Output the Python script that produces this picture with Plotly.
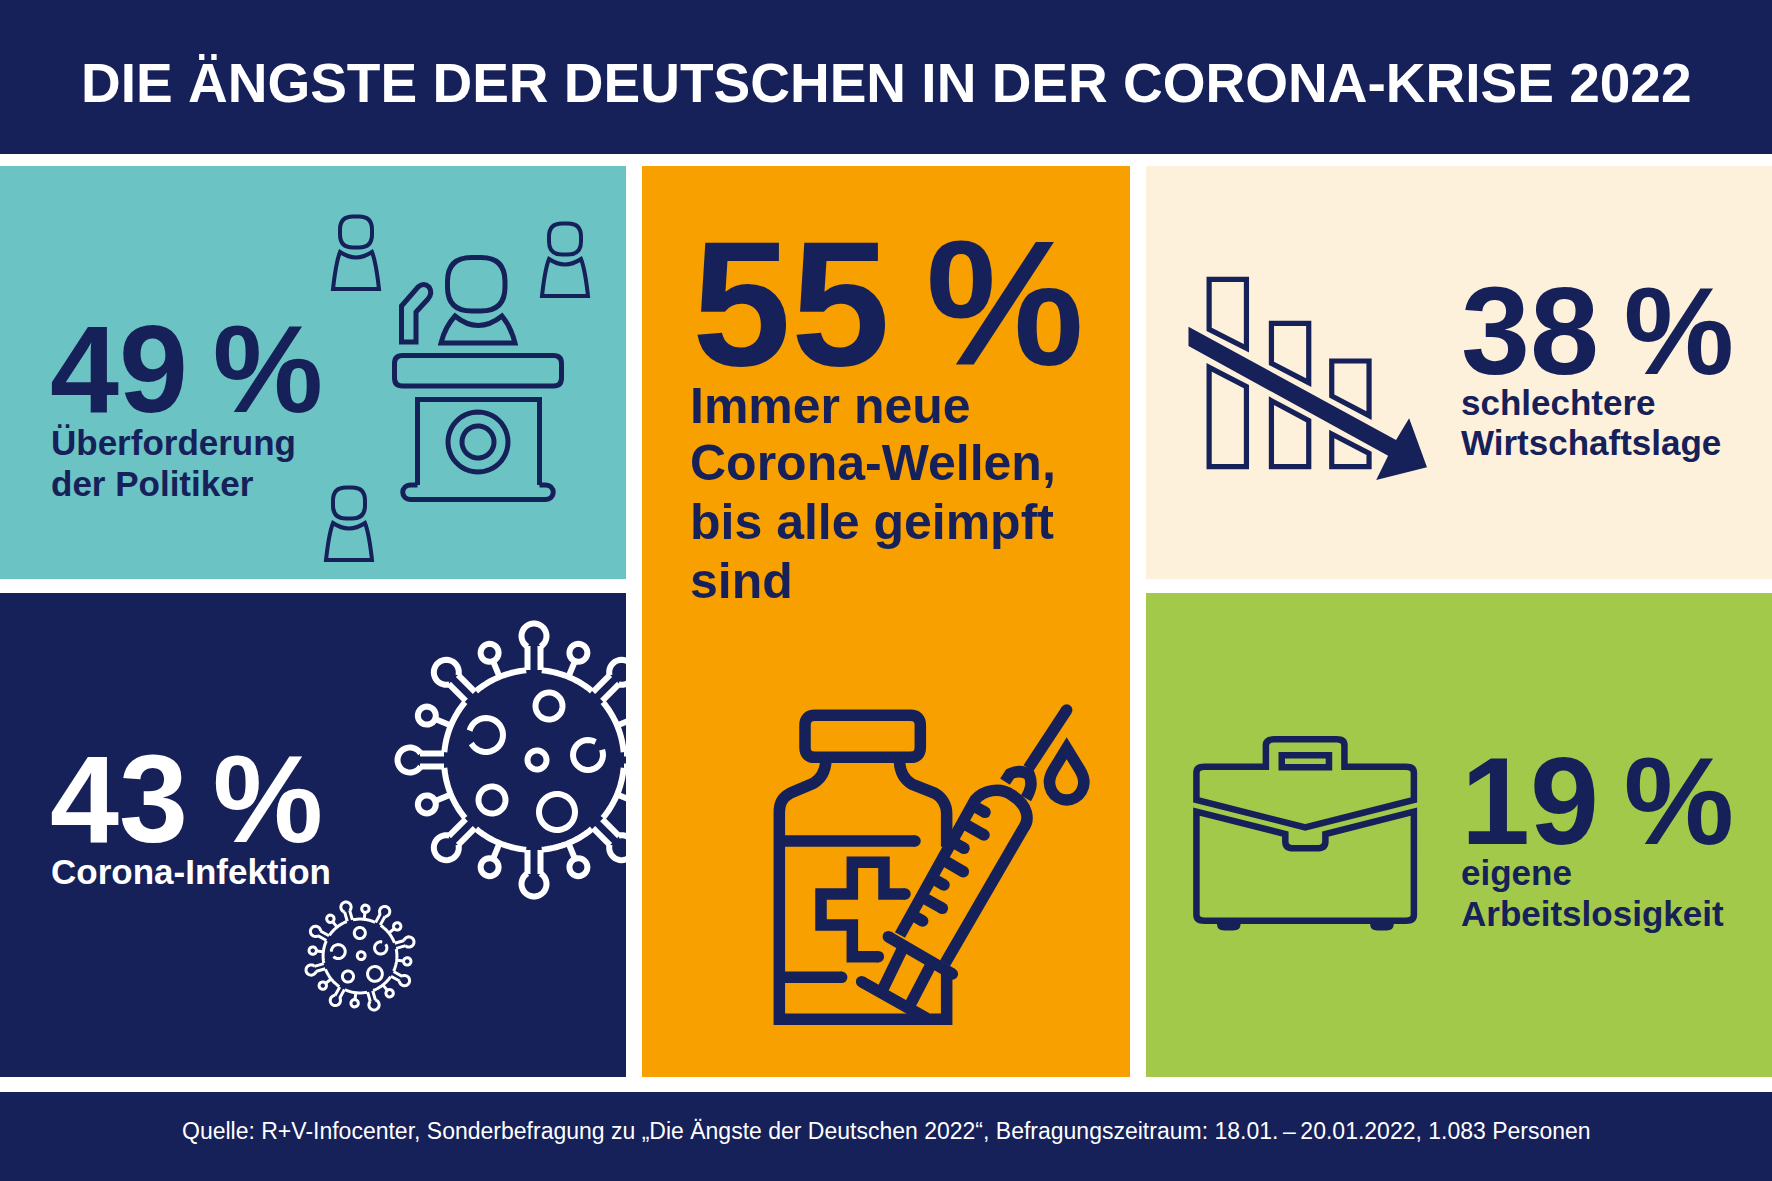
import numpy as np
import plotly.graph_objects as go

# values and texts of the infographic
title_text = "DIE ÄNGSTE DER DEUTSCHEN IN DER CORONA-KRISE 2022"
source_text = "Quelle: R+V-Infocenter, Sonderbefragung zu „Die Ängste der Deutschen 2022“, Befragungszeitraum: 18.01.\u2009–\u200920.01.2022, 1.083 Personen"
percent_values = [49, 43, 55, 38, 19]
fear_labels = [
    ["Überforderung", "der Politiker"],
    ["Corona-Infektion"],
    ["Immer neue", "Corona-Wellen,", "bis alle geimpft", "sind"],
    ["schlechtere", "Wirtschaftslage"],
    ["eigene", "Arbeitslosigkeit"],
]

# layout of the text blocks, same order as above
value_x = [50, 50, 692, 1461, 1461]
value_y = [369, 799, 303, 331, 801]
value_size = [124, 124, 178, 124, 124]
value_color = ["navy", "white", "navy", "navy", "navy"]
label_x = [51, 51, 690, 1461, 1461]
label_y = [[442, 483], [871], [406, 463, 522, 581], [402, 442], [872, 913]]
label_size = [35, 35, 50, 35, 35]

NAVY = "#162059"
WHITE = "#ffffff"
TEAL = "#6cc3c4"
ORANGE = "#f7a000"
CREAM = "#fef1dc"
GREEN = "#a3c94a"
colors = {"navy": NAVY, "white": WHITE}

fig = go.Figure()


def rect(x0, y0, x1, y1, color):
    fig.add_shape(type="rect", x0=x0, y0=y0, x1=x1, y1=y1, fillcolor=color, line_width=0)


def draw(path, color=NAVY, width=5.0, fill=None):
    fig.add_shape(type="path", path=path, line=dict(color=color, width=width),
                  fillcolor=fill if fill else "rgba(0,0,0,0)")


def dot(x, y, r, color=NAVY):
    fig.add_shape(type="circle", x0=x - r, y0=y - r, x1=x + r, y1=y + r, fillcolor=color, line_width=0)


def arc(cx, cy, r, a0=0, a1=360, closed=True, n=48):
    a = np.radians(np.linspace(a0, a1, n))
    xs = cx + r * np.cos(a)
    ys = cy - r * np.sin(a)
    p = "M " + " L ".join(f"{x:.2f} {y:.2f}" for x, y in zip(xs, ys))
    return p + (" Z" if closed else "")


def rrect(x0, y0, x1, y1, r):
    return (f"M {x0+r} {y0} L {x1-r} {y0} Q {x1} {y0} {x1} {y0+r} L {x1} {y1-r} Q {x1} {y1} {x1-r} {y1} "
            f"L {x0+r} {y1} Q {x0} {y1} {x0} {y1-r} L {x0} {y0+r} Q {x0} {y0} {x0+r} {y0} Z")


def moved(path, ox, oy, sx, sy):
    # path written in crop pixels, turned into chart pixels
    out = []
    is_x = True
    for tok in path.split():
        if tok.isalpha():
            out.append(tok)
            is_x = True
        else:
            v = float(tok)
            out.append(f"{ox + v / sx:.2f}" if is_x else f"{oy + v / sy:.2f}")
            is_x = not is_x
    return " ".join(out)


def virus(cx, cy, k, turn, width):
    def pt(ang, dist):
        a = np.radians(ang + turn)
        return cx + k * dist * np.cos(a), cy - k * dist * np.sin(a)

    # body, broken where the long spikes come in
    for i in range(8):
        draw(arc(cx, cy, 90 * k, 45 * i + 5 + turn, 45 * i + 40 + turn, closed=False, n=20), WHITE, width)
    for i in range(8):
        ang = 45 * i
        a = np.radians(ang + turn)
        nx, ny = -np.sin(a) * 6.5 * k, -np.cos(a) * 6.5 * k
        bx, by = pt(ang, 124)
        x0, y0 = pt(ang, 90)
        x1, y1 = pt(ang, 114)
        draw(f"M {x0+nx:.2f} {y0+ny:.2f} L {x1+nx:.2f} {y1+ny:.2f}", WHITE, width)
        draw(f"M {x0-nx:.2f} {y0-ny:.2f} L {x1-nx:.2f} {y1-ny:.2f}", WHITE, width)
        # open bulb at the end of the long spike
        draw(arc(bx, by, 12.5 * k, ang + turn - 148, ang + turn + 148, closed=False, n=30), WHITE, width)
        # lollipop between the long spikes
        ang2 = ang + 22.5
        x0, y0 = pt(ang2, 90)
        x1, y1 = pt(ang2, 107)
        draw(f"M {x0:.2f} {y0:.2f} L {x1:.2f} {y1:.2f}", WHITE, width)
        bx, by = pt(ang2, 116)
        draw(arc(bx, by, 9 * k, n=24), WHITE, width)
    # circles inside the body
    for dx, dy, r in [(15, -54, 13.5), (3, 0, 9.5), (-42, 40, 13.5), (23, 52, 18)]:
        a = np.radians(turn)
        px = cx + k * (dx * np.cos(a) + dy * np.sin(a))
        py = cy + k * (-dx * np.sin(a) + dy * np.cos(a))
        draw(arc(px, py, r * k), WHITE, width)
    for dx, dy, r, a0, a1 in [(-48, -25, 17, -150, 165), (54, -5, 15, 60, 380)]:
        a = np.radians(turn)
        px = cx + k * (dx * np.cos(a) + dy * np.sin(a))
        py = cy + k * (-dx * np.sin(a) + dy * np.cos(a))
        draw(arc(px, py, r * k, a0 + turn, a1 + turn, closed=False, n=30), WHITE, width)


def person(cx, cy):
    draw(rrect(cx - 16, cy - 15.5, cx + 16, cy + 15.5, 13), NAVY, 4)
    draw(f"M {cx-23} {cy+57} L {cx+23} {cy+57} Q {cx+20} {cy+30} {cx+16} {cy+20} "
         f"Q {cx} {cy+31} {cx-16} {cy+20} Q {cx-20} {cy+30} {cx-23} {cy+57} Z", NAVY, 4)


# ---- panels
rect(0, 0, 1772, 1181, WHITE)
rect(0, 0, 1772, 154, NAVY)
rect(0, 166, 626, 579, TEAL)
rect(0, 593, 626, 1077, NAVY)
rect(1146, 166, 1772, 579, CREAM)
rect(1146, 593, 1772, 1077, GREEN)
rect(0, 1092, 1772, 1181, NAVY)

# ---- virus icons, the big one runs under the white gap
virus(534, 760, 1.0, 0, 6)
virus(360, 956, 0.41, 16, 3)
rect(626, 154, 642, 1092, WHITE)
rect(642, 166, 1130, 1077, ORANGE)
rect(1130, 154, 1146, 1092, WHITE)

# ---- speaker at the lectern
draw(rrect(447.5, 257.5, 505, 311, 24))
draw("M 441 343 L 515 343 Q 511 327 502 316 Q 478 335 455 316 Q 445 327 441 343 Z")
draw("M 401.5 342 L 401.5 306 L 418 287 Q 424 282 429 287 Q 433 293 428 299 L 416 312 L 416 342 Z")
draw(rrect(394.5, 355.5, 561.5, 386, 8))
draw("M 417.5 485 L 417.5 399.5 L 539.5 399.5 L 539.5 485")
draw("M 417.5 485 L 411 485 C 400 485 400 499.5 411 499.5 L 545 499.5 C 556 499.5 556 485 545 485 L 539.5 485")
draw(arc(478, 442, 30))
draw(arc(478, 442, 16))
person(356, 232)
person(565, 239)
person(349, 503)

# ---- vaccine vial and syringe
V = dict(ox=740, oy=680, sx=3, sy=3)
VW = 11.5


def vial(path):
    draw(moved(path, **V), NAVY, VW)


def vial_line(x0, y0, x1, y1, caps=(False, True)):
    vial(f"M {x0} {y0} L {x1} {y1}")
    if caps[0]:
        dot(740 + x0 / 3, 680 + y0 / 3, VW / 2)
    if caps[1]:
        dot(740 + x1 / 3, 680 + y1 / 3, VW / 2)


vial("M 225 106 L 511 106 Q 541 106 541 136 L 541 202 Q 541 232 511 232 L 225 232 Q 195 232 195 202 L 195 136 Q 195 106 225 106 Z")
vial("M 258 235 C 258 275 240 298 220 310 L 150 340 C 130 350 118 370 118 395 L 118 1018 L 620 1018 L 620 880")
vial("M 478 235 C 478 275 495 300 515 312 L 585 340 C 605 350 620 375 620 400 L 620 500")
vial_line(118, 483, 525, 483)
vial_line(118, 892, 305, 892)
vial("M 495 642 L 432 642 L 432 547 L 337 547 L 337 642 L 243 642 L 243 735 L 337 735 L 337 830 L 415 830")
dot(740 + 495 / 3, 680 + 642 / 3, VW / 2)
dot(740 + 415 / 3, 680 + 830 / 3, VW / 2)
vial("M 480 765 L 705 360 C 730 330 780 320 815 345 C 865 375 870 420 850 445 L 615 850")
vial("M 795 305 L 810 282 C 830 272 850 272 868 285 C 878 310 872 330 858 355")
vial_line(865, 265, 980, 90)
for x0, y0, x1, y1 in [(700, 377, 735, 397), (667, 428, 732, 465), (637, 485, 672, 505),
                       (606, 538, 670, 575), (577, 595, 612, 615), (545, 650, 607, 685), (513, 703, 548, 723)]:
    vial_line(x0, y0, x1, y1)
vial_line(445, 770, 637, 882, caps=(True, True))
vial_line(488, 805, 430, 925, caps=(False, False))
vial_line(575, 850, 510, 975, caps=(False, False))
vial_line(365, 905, 560, 1015, caps=(True, False))
vial("M 980 205 L 1020 270 C 1050 320 1015 360 980 360 C 945 360 910 320 940 270 Z")

# ---- falling bars
C = dict(ox=1150, oy=250, sx=2.52, sy=3)
for piece in [
    "M 149 88 L 243 88 L 243 295 L 149 238 Z",
    "M 149 352 L 243 410 L 243 650 L 149 650 Z",
    "M 306 220 L 400 220 L 400 398 L 306 340 Z",
    "M 306 452 L 400 512 L 400 650 L 306 650 Z",
    "M 458 333 L 552 333 L 552 497 L 458 438 Z",
    "M 458 552 L 552 610 L 552 650 L 458 650 Z",
]:
    draw(moved(piece, **C), NAVY, 5.2)
draw(moved("M 97 230 L 620 570 L 653 505 L 698 652 L 570 690 L 600 617 L 97 288 Z", **C), NAVY, 0, fill=NAVY)

# ---- briefcase
B = dict(ox=1150, oy=710, sx=2.52, sy=3)
for piece in [
    "M 117 270 L 117 188 Q 117 170 137 170 L 292 170 L 292 106 Q 292 88 312 88 L 470 88 Q 490 88 490 106 L 490 170 "
    "L 645 170 Q 665 170 665 188 L 665 270 L 391 352 Z",
    "M 332 136 L 451 136 L 451 172 L 332 172 Z",
    "M 117 305 L 117 614 Q 117 632 137 632 L 645 632 Q 665 632 665 614 L 665 305 L 442 372 L 442 395 "
    "Q 442 415 420 415 L 362 415 Q 341 415 341 395 L 341 372 Z",
    "M 177 636 L 177 643 Q 177 652 187 652 L 210 652 Q 220 652 220 643 L 220 636",
    "M 563 636 L 563 643 Q 563 652 573 652 L 596 652 Q 606 652 606 643 L 606 636",
]:
    draw(moved(piece, **B), NAVY, 6.5)


# ---- text
def text(x, y, s, size, color, anchor="left", bold=True):
    fig.add_annotation(x=x, y=y, text=s, showarrow=False, xanchor=anchor, yanchor="middle", borderpad=0, borderwidth=0,
                       font=dict(family="Liberation Sans", size=size, color=color, weight=700 if bold else 400))


text(886, 83, title_text, 55, WHITE, "center")
text(886, 1131, source_text, 23, WHITE, "center", bold=False)
for i, v in enumerate(percent_values):
    text(value_x[i], value_y[i], f"{v}\u2009%", value_size[i], colors[value_color[i]])
    for line, y in zip(fear_labels[i], label_y[i]):
        text(label_x[i], y, line, label_size[i], colors[value_color[i]])

fig.update_xaxes(range=[0, 1772], visible=False, fixedrange=True)
fig.update_yaxes(range=[1181, 0], visible=False, fixedrange=True)
fig.update_layout(width=1772, height=1181, margin=dict(l=0, r=0, t=0, b=0, pad=0),
                  paper_bgcolor=WHITE, plot_bgcolor=WHITE, showlegend=False)
fig.write_html("out.html", post_script="document.body.style.margin='0';", config=dict(displayModeBar=False))
